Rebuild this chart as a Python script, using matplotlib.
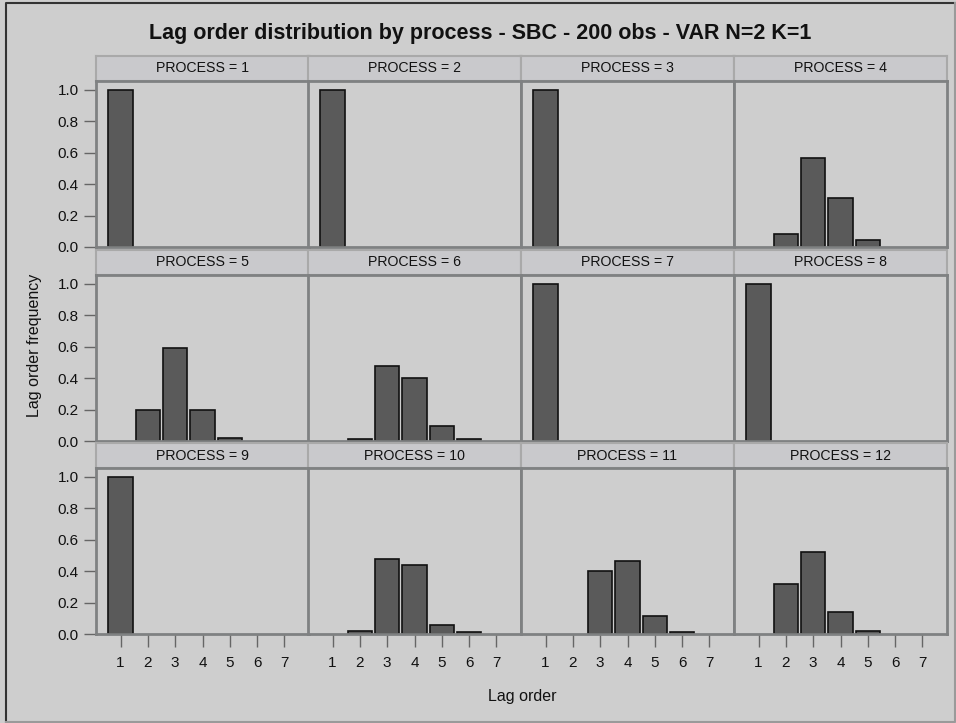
import matplotlib
matplotlib.use("Agg")
from matplotlib import pyplot as plt
from matplotlib.patches import Rectangle
import numpy as np

lags = [1, 2, 3, 4, 5, 6, 7]
processes = list(range(1, 13))

freq_p1 = [1.0, 0, 0, 0, 0, 0, 0]
freq_p2 = [1.0, 0, 0, 0, 0, 0, 0]
freq_p3 = [1.0, 0, 0, 0, 0, 0, 0]
freq_p4 = [0, 0.08, 0.565, 0.315, 0.045, 0, 0]
freq_p5 = [0, 0.20, 0.59, 0.20, 0.02, 0, 0]
freq_p6 = [0, 0.012, 0.477, 0.40, 0.097, 0.012, 0]
freq_p7 = [1.0, 0, 0, 0, 0, 0, 0]
freq_p8 = [1.0, 0, 0, 0, 0, 0, 0]
freq_p9 = [1.0, 0, 0, 0, 0, 0, 0]
freq_p10 = [0, 0.02, 0.478, 0.44, 0.059, 0.01, 0]
freq_p11 = [0, 0, 0.40, 0.467, 0.116, 0.01, 0]
freq_p12 = [0, 0.317, 0.524, 0.143, 0.02, 0, 0]

freqs = [freq_p1, freq_p2, freq_p3, freq_p4, freq_p5, freq_p6,
         freq_p7, freq_p8, freq_p9, freq_p10, freq_p11, freq_p12]

W, H = 956, 723
bg = "#cecece"
header_bg = "#c9c9cc"
bar_col = "#5a5a5a"
frame_col = "#7f8182"

plt.rcParams["font.family"] = ["Liberation Sans", "DejaVu Sans"]

fig = plt.figure(figsize=(W / 100, H / 100), dpi=100)
fig.patch.set_facecolor(bg)

# outer frame: dark on top/left, lighter on bottom/right
fig.add_artist(plt.Line2D([6 / W, 6 / W, 955 / W], [1 - 722 / H, 1 - 3 / H, 1 - 3 / H],
                          transform=fig.transFigure, color="#333333", linewidth=1.5))
fig.add_artist(plt.Line2D([6 / W, 955 / W, 955 / W], [1 - 722 / H, 1 - 722 / H, 1 - 3 / H],
                          transform=fig.transFigure, color="#9a9a9a", linewidth=1.5))

col_left = [96, 308, 521, 734]
col_w = 213
row_top = [81, 275, 468]
row_h = 166
head_h = 25

def fx(px):
    return px / W

def fy(py):
    return 1 - py / H

for i, p in enumerate(processes):
    r, c = divmod(i, 4)
    x0 = col_left[c]
    y0 = row_top[r]

    # header strip
    hax = fig.add_axes([fx(x0), fy(y0), col_w / W, head_h / H])
    hax.set_facecolor(header_bg)
    hax.set_xticks([])
    hax.set_yticks([])
    for s in hax.spines.values():
        s.set_color("#a9a9a9")
        s.set_linewidth(1.5)
    hax.text(0.5, 0.5, "PROCESS = %d" % p, ha="center", va="center",
             fontsize=10.2, color="#111111", transform=hax.transAxes)

    ax = fig.add_axes([fx(x0), fy(y0 + row_h), col_w / W, row_h / H])
    ax.set_facecolor(bg)
    # only lags that were actually selected get a bar
    x = [l for l, f in zip(lags, freqs[i]) if f > 0]
    h = [f for f in freqs[i] if f > 0]
    ax.bar(x, h, width=0.9, color=bar_col, edgecolor="#111111", linewidth=1.2)
    ax.set_xlim(0.1, 7.9)
    ax.set_ylim(0, 1.057)
    for s in ax.spines.values():
        s.set_color(frame_col)
        s.set_linewidth(2)
    ax.tick_params(colors="#666666", labelcolor="#111111", labelsize=11, length=9, width=1)
    ax.set_yticks([0, 0.2, 0.4, 0.6, 0.8, 1.0])
    ax.set_xticks(lags)
    if c == 0:
        ax.set_yticklabels(["0.0", "0.2", "0.4", "0.6", "0.8", "1.0"])
    else:
        ax.tick_params(axis="y", left=False, labelleft=False)
    if r == 2:
        ax.set_xticklabels([str(v) for v in lags])
        ax.tick_params(axis="x", pad=7)
    else:
        ax.tick_params(axis="x", bottom=False, labelbottom=False)

fig.text(fx(480), fy(33), "Lag order distribution by process - SBC - 200 obs - VAR N=2 K=1",
         ha="center", va="center", fontsize=15.5, fontweight="bold", color="#111111")
fig.text(fx(35), fy(345), "Lag order frequency", rotation=90, ha="center", va="center",
         fontsize=11.5, color="#111111")
fig.text(fx(522), fy(697), "Lag order", ha="center", va="center", fontsize=11.5, color="#111111")

fig.savefig("out.png", dpi=100, facecolor=fig.get_facecolor())
